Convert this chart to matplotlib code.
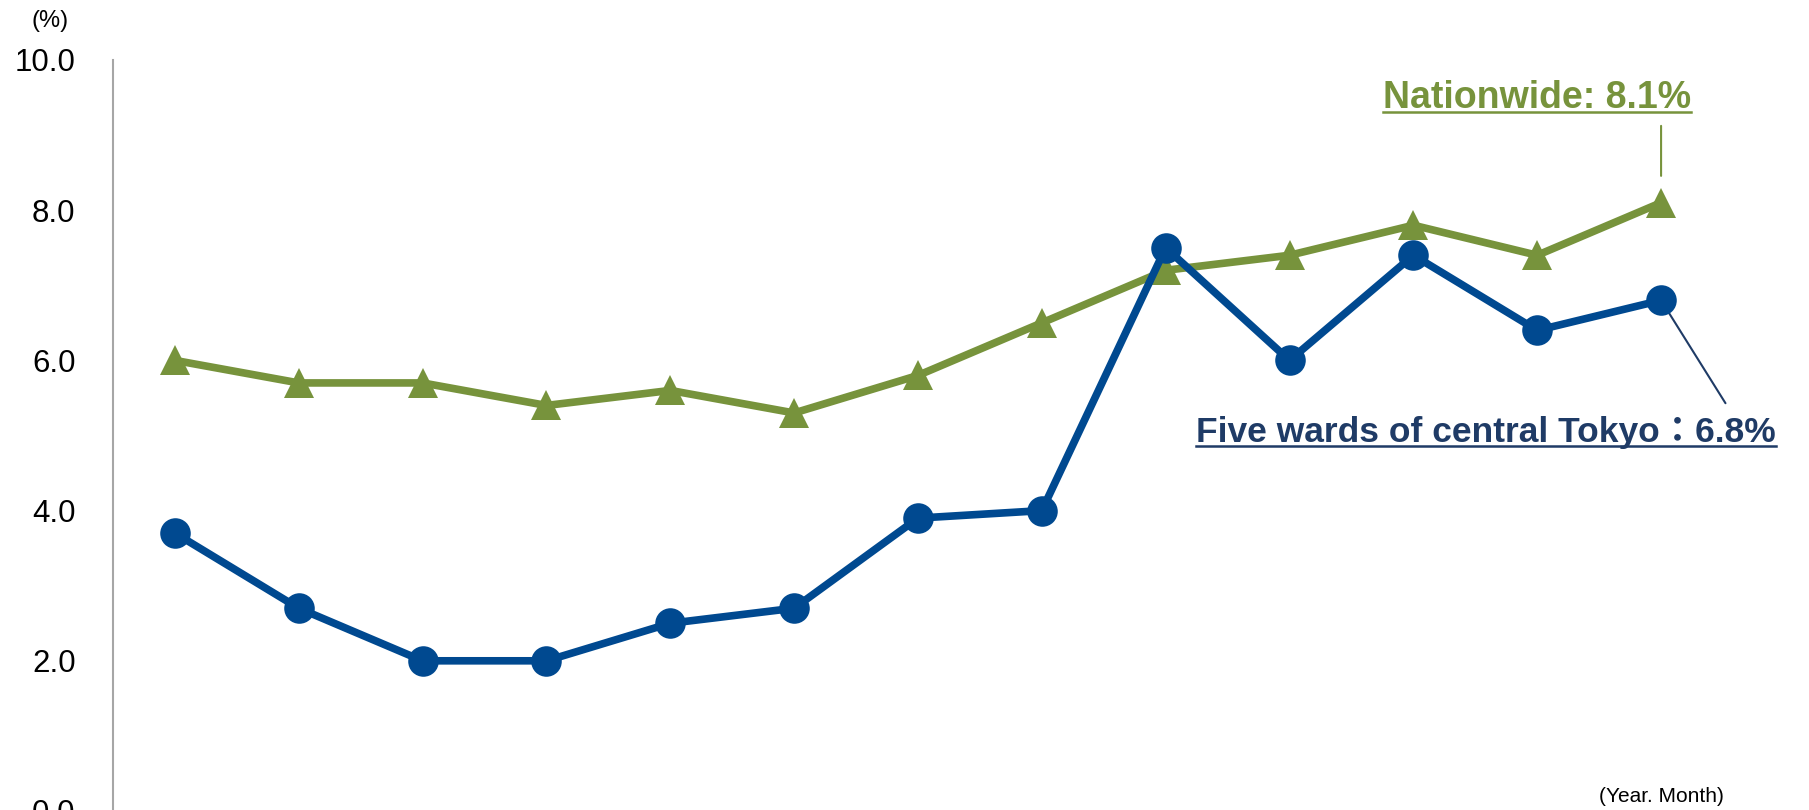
import matplotlib
matplotlib.use("Agg")
import matplotlib.pyplot as plt
from matplotlib.lines import Line2D

# data
months = list(range(13))
tokyo = [3.7, 2.7, 2.0, 2.0, 2.5, 2.7, 3.9, 4.0, 7.5, 6.0, 7.4, 6.4, 6.8]
nationwide = [6.0, 5.7, 5.7, 5.4, 5.6, 5.3, 5.8, 6.5, 7.2, 7.4, 7.8, 7.4, 8.1]
yticks = [0.0, 2.0, 4.0, 6.0, 8.0, 10.0]

GREEN = "#77933C"
BLUE = "#004990"
NAVY = "#1F3B66"

plt.rcParams["font.family"] = ["Liberation Sans", "Noto Sans CJK JP", "DejaVu Sans"]

fig = plt.figure(figsize=(18.09, 8.10), dpi=100)
ax = fig.add_axes([113 / 1809, -1 / 810, (1723 - 113) / 1809, 751 / 810])

ax.plot(months, nationwide, color=GREEN, lw=5.5, marker="^", ms=22,
        markeredgewidth=0, clip_on=False, zorder=3)
ax.plot(months, tokyo, color=BLUE, lw=5.5, marker="o", ms=22,
        markeredgewidth=0, clip_on=False, zorder=4)

ax.set_xlim(-0.5, 12.5)
ax.set_ylim(0, 10)
ax.set_yticks(yticks)
ax.set_yticklabels(["%.1f" % v for v in yticks], fontsize=22.5)
ax.tick_params(axis="y", length=0, pad=27)
ax.set_xticks([])
for s in ["top", "right", "bottom"]:
    ax.spines[s].set_visible(False)
ax.spines["left"].set_color("#A6A6A6")
ax.spines["left"].set_linewidth(1.5)

fig.text(50 / 1809, 1 - 21 / 810, "(%)", fontsize=17, ha="center", va="center")
fig.text(1661 / 1809, 1 - 797 / 810, "(Year. Month)", fontsize=15,
         ha="center", va="center")

# leader lines
ax.annotate("", xy=(12, 8.42), xytext=(12, 9.16), annotation_clip=False,
            arrowprops=dict(arrowstyle="-", color=GREEN, lw=1.5))
ax.annotate("", xy=(12, 6.8), xytext=(12.52, 5.43), annotation_clip=False,
            arrowprops=dict(arrowstyle="-", color=NAVY, lw=1.5, shrinkA=0, shrinkB=0))

t1 = fig.text(1383 / 1809, 1 - 108 / 810, "Nationwide: 8.1%", fontsize=27,
              fontweight="bold", color=GREEN, ha="left", va="baseline")
t2 = fig.text(1196 / 1809, 1 - 442 / 810, "Five wards of central Tokyo：6.8%",
              fontsize=25.5, fontweight="bold", color=NAVY, ha="left", va="baseline")

# underline the labels
fig.canvas.draw()
inv = fig.transFigure.inverted()
for t, col in [(t1, GREEN), (t2, NAVY)]:
    bb = t.get_window_extent()
    x0 = inv.transform((bb.x0, 0))[0]
    x1 = inv.transform((bb.x1, 0))[0]
    y = t.get_position()[1] - 4 / 810
    fig.add_artist(Line2D([x0, x1], [y, y], color=col, lw=1.8,
                          transform=fig.transFigure))

fig.savefig("out.png", dpi=100)
